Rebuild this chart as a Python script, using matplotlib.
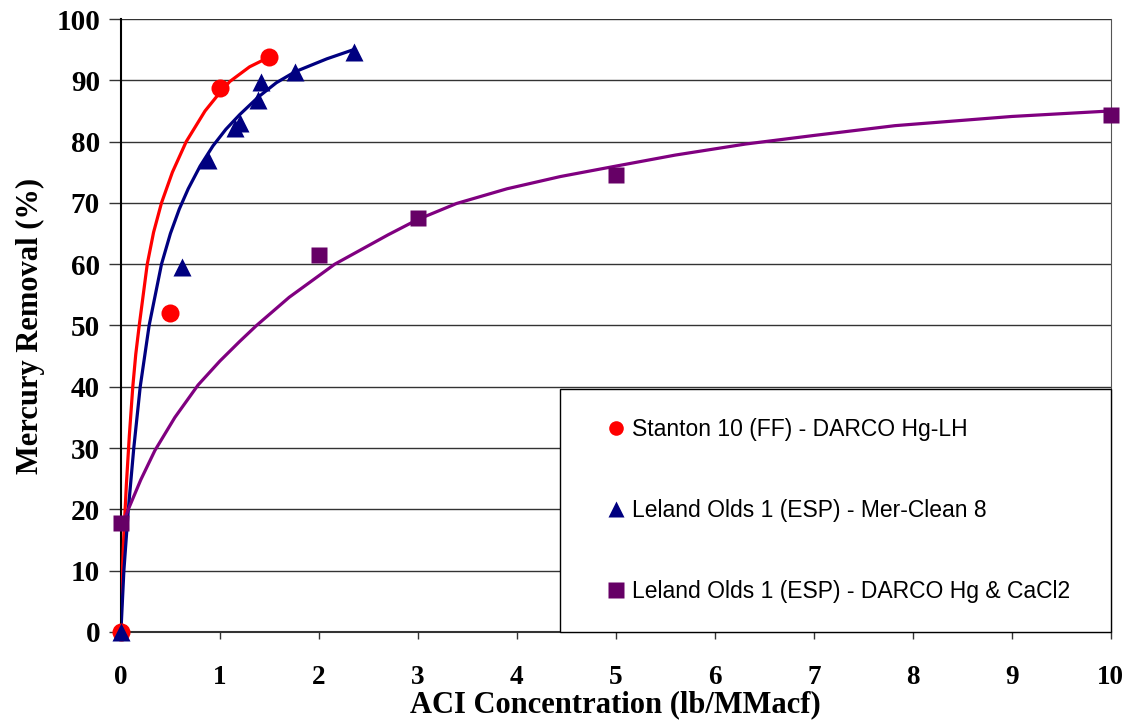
import matplotlib
matplotlib.use('Agg')
import matplotlib.pyplot as plt
from matplotlib.lines import Line2D
from matplotlib.patches import Rectangle

# measured points
stanton_x = [0, 0.5, 1.0, 1.5]
stanton_y = [0, 52, 88.8, 93.8]

merclean_x = [0, 0.62, 0.88, 1.15, 1.2, 1.38, 1.42, 1.76, 2.35]
merclean_y = [0, 59.6, 77, 82.2, 83, 86.8, 89.8, 91.4, 94.6]

cacl2_x = [0, 2, 3, 5, 10]
cacl2_y = [17.8, 61.5, 67.5, 74.6, 84.4]

# fitted curves
stanton_fit_x = [0, 0.01, 0.03, 0.055, 0.085, 0.12, 0.15, 0.185, 0.266, 0.33, 0.41,
                 0.52, 0.66, 0.85, 1.0, 1.1, 1.3, 1.5]
stanton_fit_y = [0, 8, 16, 24, 32, 40, 45.3, 50, 60, 65.2, 70, 75, 80, 85, 88, 89.8,
                 92.2, 93.8]

merclean_fit_x = [0, 0.03, 0.075, 0.13, 0.195, 0.285, 0.41, 0.5, 0.59, 0.68, 0.8,
                  0.93, 1.06, 1.2, 1.39, 1.57, 1.76, 2.08, 2.35]
merclean_fit_y = [0, 10, 20, 30, 40, 50, 60, 65, 69, 72.3, 76, 79.3, 82, 84.4, 87.3,
                  89.6, 91.4, 93.5, 95]

cacl2_fit_x = [0, 0.08, 0.2, 0.343, 0.545, 0.78, 1.0, 1.2, 1.37, 1.7, 2.16, 2.7, 3.0,
               3.39, 3.9, 4.44, 5, 5.6, 6.31, 7, 7.82, 9, 10]
cacl2_fit_y = [16.8, 20.2, 24.8, 29.6, 35, 40.3, 44.2, 47.4, 50, 54.6, 60, 64.8, 67.3,
               69.9, 72.3, 74.3, 76, 77.8, 79.6, 81, 82.6, 84.1, 85]

labels = ['Stanton 10 (FF) - DARCO Hg-LH',
          'Leland Olds 1 (ESP) - Mer-Clean 8',
          'Leland Olds 1 (ESP) - DARCO Hg & CaCl2']

serif = 'Liberation Serif'
sans = 'Liberation Sans'

fig = plt.figure(figsize=(11.3, 7.28), dpi=100)
ax = fig.add_axes([0.107, 0.1319, 0.876, 0.8420])

ax.plot(stanton_fit_x, stanton_fit_y, color='#FF0000', lw=2.3, zorder=4,
        solid_joinstyle='round')
ax.plot(merclean_fit_x, merclean_fit_y, color='#000080', lw=2.3, zorder=4,
        solid_joinstyle='round')
ax.plot(cacl2_fit_x, cacl2_fit_y, color='#800080', lw=2.3, zorder=4,
        solid_joinstyle='round')

ax.plot(stanton_x, stanton_y, 'o', color='#FF0000', ms=13, mec='none', zorder=5, clip_on=False)
ax.plot(merclean_x, merclean_y, '^', color='#000080', ms=13, mec='none', zorder=5, clip_on=False)
ax.plot(cacl2_x, cacl2_y, 's', color='#660066', ms=11.5, mec='none', zorder=5, clip_on=False)

ax.set_xlim(0, 10)
ax.set_ylim(0, 100)
ax.set_xticks(range(0, 11))
ax.set_yticks(range(0, 101, 10))

ax.yaxis.grid(True, color='#333333', lw=1)
ax.set_axisbelow(True)

ax.spines['top'].set_visible(False)
ax.spines['left'].set_color('black')
ax.spines['bottom'].set_color('#333333')
ax.spines['right'].set_color('#555555')
ax.spines['left'].set_linewidth(1.5)
ax.spines['bottom'].set_linewidth(1.5)

ax.tick_params(axis='y', direction='out', length=9, width=1, pad=6, color='#333333',
               labelsize=21)
ax.tick_params(axis='x', direction='out', length=5, width=1, pad=19, color='#333333',
               labelsize=19.5)
for t in ax.get_xticklabels() + ax.get_yticklabels():
    t.set_fontfamily(serif)
    t.set_fontweight('bold')

ax.set_xlabel('ACI Concentration (lb/MMacf)', fontfamily=serif, fontweight='bold',
              fontsize=22, labelpad=0)
ax.set_ylabel('Mercury Removal (%)', fontfamily=serif, fontweight='bold',
              fontsize=22, labelpad=8)

# legend box
box = Rectangle((0.444, 0), 0.556, 0.397, transform=ax.transAxes, facecolor='white',
                edgecolor='black', lw=1, zorder=6, clip_on=False)
ax.add_patch(box)

handles = [
    Line2D([], [], ls='none', marker='o', color='#FF0000', ms=10.5, mec='none'),
    Line2D([], [], ls='none', marker='^', color='#000080', ms=11.5, mec='none'),
    Line2D([], [], ls='none', marker='s', color='#660066', ms=11, mec='none'),
]
leg = ax.legend(handles, labels, loc='center left', bbox_to_anchor=(0.479, 0.198),
                frameon=False, borderpad=0, handlelength=0.8, handletextpad=0.3,
                labelspacing=2.52, prop={'family': sans, 'size': 16.5})
leg.set_zorder(7)

fig.savefig('out.png', dpi=100)
